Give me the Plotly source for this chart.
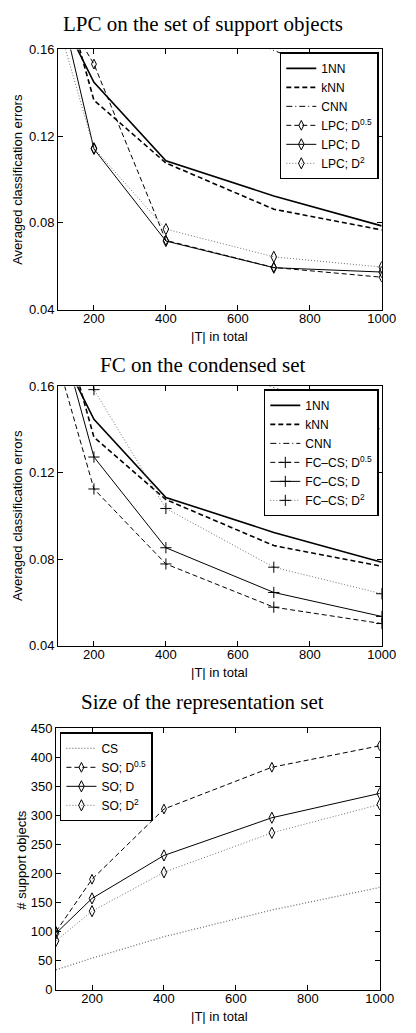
import plotly.graph_objects as go

# Training-set sizes |T|
sizes = [100, 200, 400, 700, 1000]

# Panel 1: LPC on the set of support objects (averaged classification errors)
err_1nn = [0.178, 0.1448, 0.1086, 0.0924, 0.0786]
err_knn = [0.196, 0.1365, 0.1076, 0.0863, 0.0767]
err_cnn = [0.250, 0.210, 0.178, 0.1595, 0.140]
lpc_d05 = [0.181, 0.1532, 0.0719, 0.0594, 0.0549]
lpc_d1 = [0.185, 0.1141, 0.0716, 0.0593, 0.0573]
lpc_d2 = [0.172, 0.1144, 0.0771, 0.0643, 0.0596]

# Panel 2: FC on the condensed set
fc_d05 = [0.171, 0.1125, 0.0778, 0.0578, 0.0502]
fc_d1 = [0.188, 0.1273, 0.0853, 0.0646, 0.0535]
fc_d2 = [0.205, 0.1585, 0.1035, 0.0763, 0.0640]

# Panel 3: size of the representation set
cs_size = [34, 54, 91, 137, 176]
so_d05 = [100, 190, 311, 383, 420]
so_d1 = [97, 157, 231, 296, 338]
so_d2 = [84, 135, 202, 270, 319]

W, H = 416, 1033
SANS = "Liberation Sans"
SERIF = "Liberation Serif"
GRAY = "#707070"
DOT = "1px,2px"
DASH = "5px,3px"
DASHDOT = "6px,3px,1px,3px"


def px_x(p):
    return p / W


def px_y(p):
    return 1 - p / H


fig = go.Figure()


def add_line(x, y, name, axis, legend, dash="solid", width=1.0, color="black",
             symbol=None, msize=8):
    mode = "lines+markers" if symbol else "lines"
    kw = dict(x=x, y=y, name=name, mode=mode,
              line=dict(color=color, dash=dash, width=width),
              xaxis="x" + axis, yaxis="y" + axis, legend=legend,
              cliponaxis=True)
    if symbol:
        kw["marker"] = dict(symbol=symbol, size=msize, color="black",
                            line=dict(color="black", width=1))
    fig.add_trace(go.Scatter(**kw))


# Panel 1
add_line(sizes, err_1nn, "1NN", "", "legend", width=1.6)
add_line(sizes, err_knn, "kNN", "", "legend", dash=DASH, width=1.6)
add_line(sizes, err_cnn, "CNN", "", "legend", dash=DASHDOT, width=1)
add_line(sizes, lpc_d05, "LPC; D<sup>0.5</sup>", "", "legend", dash=DASH,
         symbol="diamond-tall-open", msize=7)
add_line(sizes, lpc_d1, "LPC; D", "", "legend", symbol="diamond-tall-open")
add_line(sizes, lpc_d2, "LPC; D<sup>2</sup>", "", "legend", dash=DOT,
         color=GRAY, symbol="diamond-tall-open")

# Panel 2
add_line(sizes, err_1nn, "1NN", "2", "legend2", width=1.6)
add_line(sizes, err_knn, "kNN", "2", "legend2", dash=DASH, width=1.6)
add_line(sizes, err_cnn, "CNN", "2", "legend2", dash=DASHDOT, width=1)
add_line(sizes, fc_d05, "FC\u2013CS; D<sup>0.5</sup>", "2", "legend2",
         dash=DASH, symbol="cross-thin-open", msize=8)
add_line(sizes, fc_d1, "FC\u2013CS; D", "2", "legend2",
         symbol="cross-thin-open", msize=8)
add_line(sizes, fc_d2, "FC\u2013CS; D<sup>2</sup>", "2", "legend2", dash=DOT,
         color=GRAY, symbol="cross-thin-open", msize=8)

# Panel 3
add_line(sizes, cs_size, "CS", "3", "legend3", dash=DOT, color=GRAY, width=1.3)
add_line(sizes, so_d05, "SO; D<sup>0.5</sup>", "3", "legend3", dash=DASH,
         symbol="diamond-tall-open", msize=7)
add_line(sizes, so_d1, "SO; D", "3", "legend3", symbol="diamond-tall-open")
add_line(sizes, so_d2, "SO; D<sup>2</sup>", "3", "legend3", dash=DOT,
         color=GRAY, symbol="diamond-tall-open")

axis_common = dict(showline=True, linecolor="black", linewidth=1, mirror="ticks",
                   ticks="inside", ticklen=5, tickcolor="black", showgrid=False,
                   zeroline=False, tickfont=dict(family=SANS, size=13, color="black"))

panels = [
    # axis suffix, left, right, top, bottom, y range, y tick step, y format
    ("", 60, 395, 43, 307, [0.04, 0.16], 0.04, ".2f"),
    ("2", 60, 395, 385, 648, [0.04, 0.16], 0.04, ".2f"),
    ("3", 58, 393, 732, 997, [0, 450], 50, ""),
]
for suf, l, r, t, b, yr, dt, fmt in panels:
    fig.layout["xaxis" + suf] = dict(axis_common, domain=[px_x(l), px_x(r)],
                                     range=[100, 1000], dtick=200, tick0=0,
                                     ticklabelstandoff=-3, anchor="y" + suf)
    fig.layout["yaxis" + suf] = dict(axis_common, domain=[px_y(b), px_y(t)],
                                     range=yr, dtick=dt, tick0=0,
                                     tickformat=fmt, anchor="x" + suf)

legend_common = dict(bgcolor="white", bordercolor="black", borderwidth=1.5,
                     font=dict(family=SANS, size=12, color="black"),
                     yanchor="top", tracegroupgap=0, itemwidth=30)
fig.update_layout(
    legend=dict(legend_common, x=px_x(392), xanchor="right", y=px_y(46)),
    legend2=dict(legend_common, x=px_x(392), xanchor="right", y=px_y(388)),
    legend3=dict(legend_common, x=px_x(62), xanchor="left", y=px_y(736)),
)

annotations = []
titles = [("LPC on the set of support objects", 17),
          ("FC on the condensed set", 363),
          ("Size of the representation set", 705)]
for text, yc in titles:
    annotations.append(dict(text=text, x=px_x(210), y=px_y(yc), xref="paper",
                            yref="paper", showarrow=False, xanchor="center",
                            yanchor="middle",
                            font=dict(family=SERIF, size=21, color="black")))
for yc in (334, 675, 1024):
    annotations.append(dict(text="|T| in total", x=px_x(227), y=px_y(yc),
                            xref="paper", yref="paper", showarrow=False,
                            xanchor="center", yanchor="middle",
                            font=dict(family=SANS, size=13, color="black")))
for text, xc, yc in [("Averaged classification errors", 18, 175),
                     ("Averaged classification errors", 18, 516),
                     ("# support objects", 22, 865)]:
    annotations.append(dict(text=text, x=px_x(xc), y=px_y(yc), xref="paper",
                            yref="paper", showarrow=False, xanchor="center",
                            yanchor="middle", textangle=-90,
                            font=dict(family=SANS, size=13, color="black")))

fig.update_layout(width=W, height=H, margin=dict(l=0, r=0, t=0, b=0),
                  paper_bgcolor="white", plot_bgcolor="white",
                  annotations=annotations, showlegend=True)

fig.write_html("out.html")
